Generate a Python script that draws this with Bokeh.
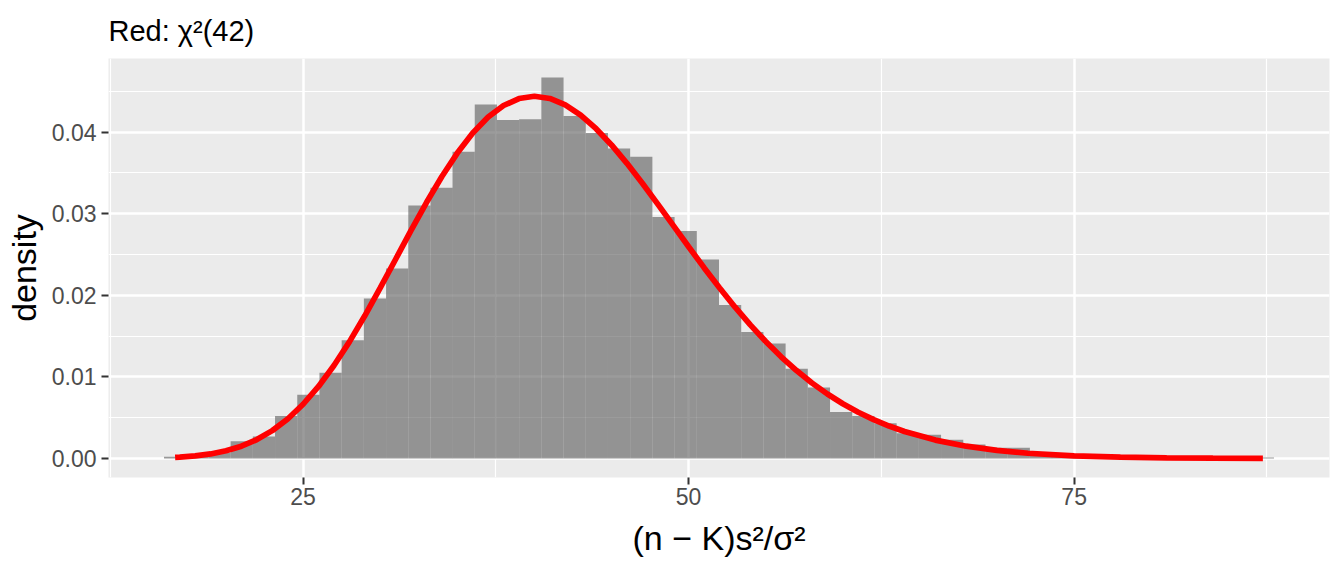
from bokeh.plotting import figure
from bokeh.models import Range1d, FixedTicker, NumeralTickFormatter
from bokeh.embed import file_html
from bokeh.resources import INLINE

# ---- data ----
title_text = "Red: χ²(42)"
x_label = "(n − K)s²/σ²"
y_label = "density"

bin_width = 1.4396
bin_centers = [16.70, 18.14, 19.58, 21.02, 22.46, 23.90, 25.34, 26.78, 28.22, 29.66,
               31.10, 32.54, 33.98, 35.41, 36.85, 38.29, 39.73, 41.17, 42.61, 44.05,
               45.49, 46.93, 48.37, 49.81, 51.25, 52.69, 54.13, 55.57, 57.01, 58.45,
               59.89, 61.33, 62.77, 64.21, 65.65, 67.09, 68.53, 69.97, 71.41, 72.85,
               74.28, 75.72, 77.16, 78.60, 80.04, 81.48, 82.92, 84.36, 85.80, 87.24]
bin_density = [0.0002, 0.0003, 0.0007, 0.0021, 0.0027, 0.0052, 0.0078, 0.0105, 0.0145, 0.0196,
               0.0233, 0.0310, 0.0332, 0.0376, 0.0434, 0.0415, 0.0416, 0.0467, 0.0420, 0.0399,
               0.0380, 0.0370, 0.0296, 0.0279, 0.0244, 0.0188, 0.0155, 0.0141, 0.0110, 0.0087,
               0.0057, 0.0052, 0.0043, 0.0031, 0.0029, 0.0023, 0.0017, 0.0013, 0.0013, 0.0007,
               0.0005, 0.0004, 0.0003, 0.0002, 0.0001, 0.0001, 0.0000, 0.0001, 0.0000, 0.0001]

curve_x = [16.70, 17, 18, 19, 20, 21, 22, 23, 24, 25, 26, 27, 28, 29, 30, 31, 32, 33, 34, 35,
           36, 37, 38, 39, 40, 41, 42, 43, 44, 45, 46, 47, 48, 49, 50, 51, 52, 53, 54, 55,
           56, 57, 58, 59, 60, 61, 62, 63, 64, 66, 68, 70, 72, 75, 78, 81, 84, 87.24]
curve_y = [0.000132, 0.000162, 0.000308, 0.000551, 0.000933, 0.001501, 0.002309, 0.003407,
           0.004840, 0.006642, 0.008827, 0.011389, 0.014296, 0.017493, 0.020902, 0.024426,
           0.027955, 0.031376, 0.034574, 0.037444, 0.039895, 0.041856, 0.043276, 0.044129,
           0.044410, 0.044138, 0.043349, 0.042093, 0.040434, 0.038441, 0.036187, 0.033746,
           0.031184, 0.028568, 0.025954, 0.023392, 0.020921, 0.018573, 0.016372, 0.014333,
           0.012465, 0.010771, 0.009251, 0.007898, 0.006705, 0.005660, 0.004752, 0.003969,
           0.003299, 0.002246, 0.001501, 0.000986, 0.000637, 0.000322, 0.000157, 0.0000746,
           0.0000345, 0.0000145]

x_ticks = [25, 50, 75]
x_minor = [12.5, 37.5, 62.5, 87.5]
y_ticks = [0.00, 0.01, 0.02, 0.03, 0.04]
y_minor = [0.005, 0.015, 0.025, 0.035, 0.045]

FONT = "Liberation Sans"

p = figure(width=1336, height=568, output_backend="svg", toolbar_location=None,
           x_range=Range1d(12.38, 91.56), y_range=Range1d(-0.00234, 0.04904),
           min_border_left=108, min_border_right=7, min_border_top=56, min_border_bottom=91)

p.background_fill_color = "#EBEBEB"
p.border_fill_color = "white"
p.outline_line_color = None

p.vbar(x=bin_centers, width=bin_width, top=bin_density, bottom=0,
       fill_color="#595959", fill_alpha=0.6, line_color=None)
p.line(curve_x, curve_y, line_color="#FF0000", line_width=5.7)

p.xaxis.ticker = FixedTicker(ticks=x_ticks, minor_ticks=x_minor)
p.yaxis.ticker = FixedTicker(ticks=y_ticks, minor_ticks=y_minor)
p.yaxis.formatter = NumeralTickFormatter(format="0.00")

for g in (p.xgrid, p.ygrid):
    g.grid_line_color = "white"
    g.grid_line_width = 2.5
    g.minor_grid_line_color = "white"
    g.minor_grid_line_width = 1.2

for ax in (p.xaxis, p.yaxis):
    ax.axis_line_color = None
    ax.major_tick_line_color = "#333333"
    ax.major_tick_line_width = 2
    ax.major_tick_out = 7
    ax.major_tick_in = 0
    ax.minor_tick_line_color = None
    ax.major_label_text_font = FONT
    ax.major_label_text_font_size = "23px"
    ax.major_label_text_color = "#4D4D4D"
    ax.axis_label_text_font = FONT
    ax.axis_label_text_font_style = "normal"
    ax.axis_label_text_color = "black"
    ax.axis_label_text_font_size = "34px"

p.xaxis.axis_label = x_label
p.yaxis.axis_label = y_label
p.xaxis.major_label_standoff = 3
p.yaxis.major_label_standoff = 5
p.xaxis.axis_label_standoff = 11
p.yaxis.axis_label_standoff = 6

p.title.text = title_text
p.title.text_font = FONT
p.title.text_font_size = "29px"
p.title.text_font_style = "normal"
p.title.text_color = "black"
p.title.align = "left"
p.title.standoff = 24

open("out.html", "w").write(file_html(p, INLINE))
